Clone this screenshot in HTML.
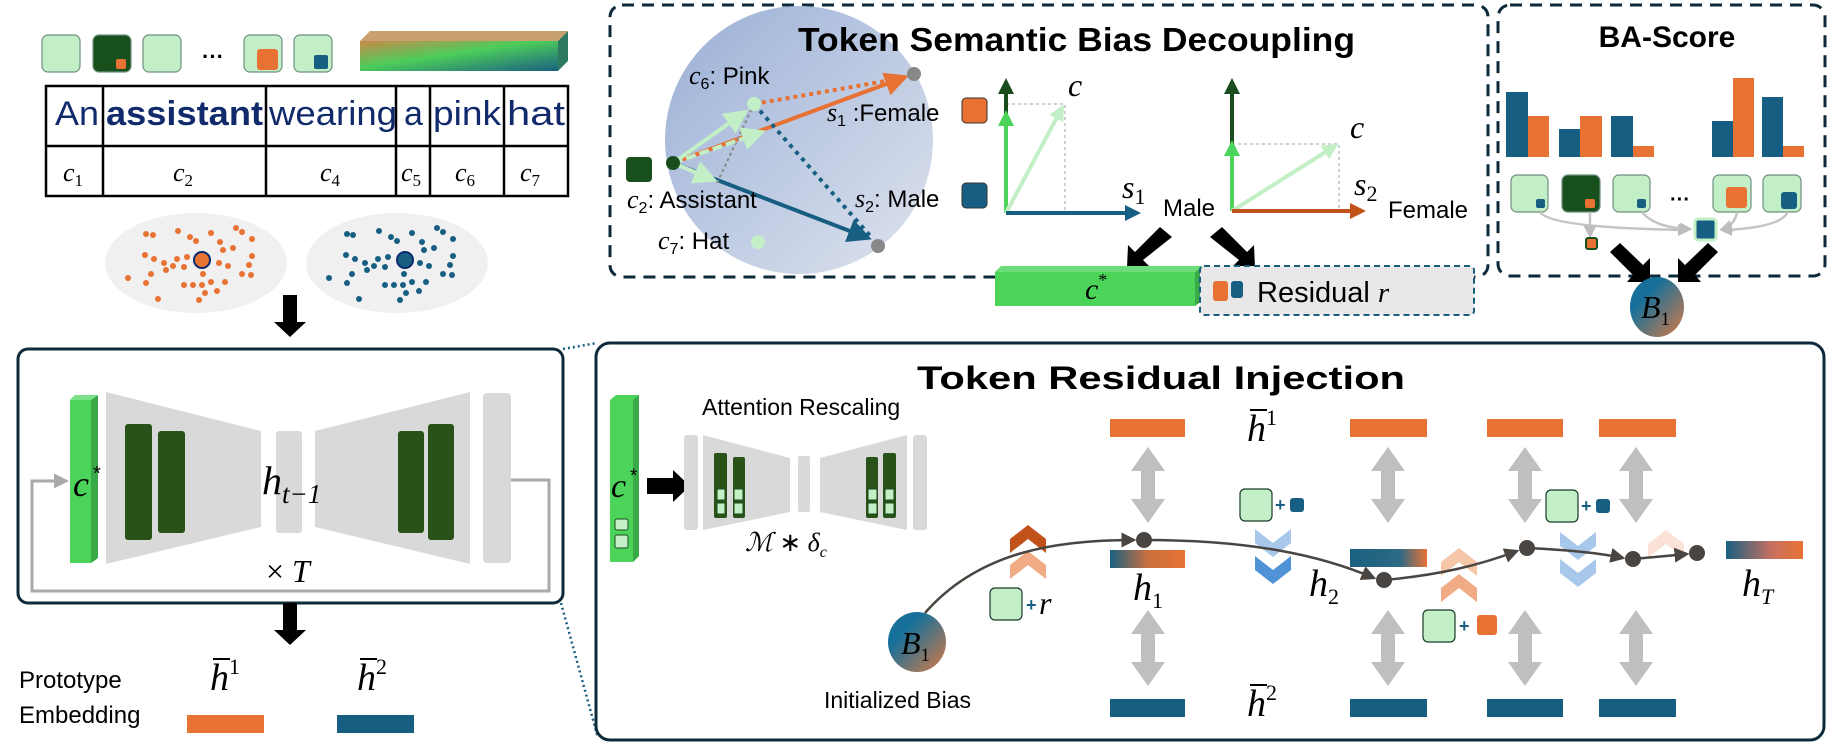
<!DOCTYPE html>
<html><head><meta charset="utf-8"><style>
html,body{margin:0;padding:0;background:#fff}
svg{display:block}
.t{font-family:"Liberation Sans",sans-serif}
.m{font-family:"Liberation Serif",serif;font-style:italic}
</style></head><body>
<svg width="1827" height="749" viewBox="0 0 1827 749" xmlns="http://www.w3.org/2000/svg">
<defs>
<linearGradient id="bar" x1="0" y1="0" x2="1" y2="1">
<stop offset="0" stop-color="#c98a4a"/><stop offset="0.45" stop-color="#4ccd5a"/><stop offset="1" stop-color="#1a6080"/></linearGradient>
<linearGradient id="sph" x1="0" y1="0" x2="1" y2="1">
<stop offset="0" stop-color="#9aafd6"/><stop offset="1" stop-color="#dfe4ee"/></linearGradient>
<linearGradient id="b1" x1="0" y1="0" x2="1" y2="1">
<stop offset="0.3" stop-color="#16709a"/><stop offset="1" stop-color="#d87a45"/></linearGradient>
<linearGradient id="hg" x1="0" y1="0" x2="1" y2="0">
<stop offset="0" stop-color="#1a6080"/><stop offset="0.5" stop-color="#c87040"/><stop offset="1" stop-color="#e87234"/></linearGradient>
<linearGradient id="h2g" x1="0" y1="0" x2="1" y2="0">
<stop offset="0" stop-color="#1a6080"/><stop offset="0.65" stop-color="#2e6a85"/><stop offset="1" stop-color="#e87234"/></linearGradient>
<linearGradient id="hTg" x1="0" y1="0" x2="1" y2="0">
<stop offset="0" stop-color="#1a6080"/><stop offset="0.6" stop-color="#c87060"/><stop offset="1" stop-color="#e87234"/></linearGradient>
<marker id="ao" markerWidth="6" markerHeight="6" refX="5" refY="3" orient="auto"><path d="M0,0L6,3L0,6z" fill="#e87234"/></marker>
<marker id="ab" markerWidth="6" markerHeight="6" refX="5" refY="3" orient="auto"><path d="M0,0L6,3L0,6z" fill="#175f82"/></marker>
<marker id="ag" markerWidth="6" markerHeight="6" refX="5" refY="3" orient="auto"><path d="M0,0L6,3L0,6z" fill="#c2efc6"/></marker>
<marker id="ad" markerWidth="6" markerHeight="6" refX="5" refY="3" orient="auto"><path d="M0,0L6,3L0,6z" fill="#4a4540"/></marker>
<marker id="agr" markerWidth="5" markerHeight="5" refX="4" refY="2.5" orient="auto"><path d="M0,0L5,2.5L0,5z" fill="#bdbdbd"/></marker>
<marker id="axg" markerWidth="4" markerHeight="4" refX="3" refY="2" orient="auto"><path d="M0,0L4,2L0,4z" fill="#4cd45a"/></marker>
<marker id="axd" markerWidth="4" markerHeight="4" refX="3" refY="2" orient="auto"><path d="M0,0L4,2L0,4z" fill="#1a4d1e"/></marker>
<marker id="axl" markerWidth="4" markerHeight="4" refX="3" refY="2" orient="auto"><path d="M0,0L4,2L0,4z" fill="#c2efc6"/></marker>
<marker id="axb" markerWidth="4" markerHeight="4" refX="3" refY="2" orient="auto"><path d="M0,0L4,2L0,4z" fill="#175f82"/></marker>
<marker id="axo" markerWidth="4" markerHeight="4" refX="3" refY="2" orient="auto"><path d="M0,0L4,2L0,4z" fill="#c0521a"/></marker>
<marker id="afb" markerWidth="5" markerHeight="5" refX="4" refY="2.5" orient="auto"><path d="M0,0L5,2.5L0,5z" fill="#aaa"/></marker>
<g id="dup"><polygon points="0,0 17,24 7,24 7,52 17,52 0,76 -17,52 -7,52 -7,24 -17,24" fill="#bfbfbf"/></g>
<g id="chev"><polygon points="-18,12 0,-2 18,12 18,26 0,12 -18,26"/></g>
</defs>

<!-- TOP LEFT -->
<g stroke="#6f8f80" stroke-width="1.2">
<rect x="42" y="35" width="38" height="37" rx="6" fill="#c2efc6"/>
<rect x="93" y="35" width="38" height="37" rx="6" fill="#17501d"/>
<rect x="143" y="35" width="38" height="37" rx="6" fill="#c2efc6"/>
<rect x="244" y="35" width="38" height="37" rx="6" fill="#c2efc6"/>
<rect x="294" y="35" width="38" height="37" rx="6" fill="#c2efc6"/>
</g>
<rect x="116" y="59" width="10" height="10" rx="2" fill="#e87234"/>
<rect x="257" y="49" width="21" height="21" rx="3" fill="#e87234"/>
<rect x="314" y="55" width="14" height="14" rx="2" fill="#175f82"/>
<text x="202" y="64" class="t" font-size="22" font-weight="bold">···</text>
<polygon points="370,31 568,31 558,41 360,41" fill="#c9a070"/>
<polygon points="558,41 568,31 568,61 558,71" fill="#2c7a60"/>
<rect x="360" y="41" width="198" height="30" fill="url(#bar)"/>

<g stroke="#000" stroke-width="2.5" fill="none">
<rect x="46" y="86" width="522" height="110"/>
<line x1="46" y1="146" x2="568" y2="146"/>
<line x1="103" y1="86" x2="103" y2="196"/><line x1="266" y1="86" x2="266" y2="196"/>
<line x1="396" y1="86" x2="396" y2="196"/><line x1="430" y1="86" x2="430" y2="196"/>
<line x1="504" y1="86" x2="504" y2="196"/>
</g>
<g class="t" font-size="34" fill="#102a6b">
<text x="55" y="125" textLength="44" lengthAdjust="spacingAndGlyphs">An</text>
<text x="106" y="125" font-weight="bold" textLength="157" lengthAdjust="spacingAndGlyphs">assistant</text>
<text x="269" y="125" textLength="128" lengthAdjust="spacingAndGlyphs">wearing</text>
<text x="404" y="125">a</text>
<text x="433" y="125" textLength="68" lengthAdjust="spacingAndGlyphs">pink</text>
<text x="507" y="125" textLength="58" lengthAdjust="spacingAndGlyphs">hat</text>
</g>
<g class="m" font-size="26">
<text x="63" y="181">c<tspan font-size="17" font-style="normal" dy="5">1</tspan></text>
<text x="173" y="181">c<tspan font-size="17" font-style="normal" dy="5">2</tspan></text>
<text x="320" y="181">c<tspan font-size="17" font-style="normal" dy="5">4</tspan></text>
<text x="401" y="181">c<tspan font-size="17" font-style="normal" dy="5">5</tspan></text>
<text x="455" y="181">c<tspan font-size="17" font-style="normal" dy="5">6</tspan></text>
<text x="520" y="181">c<tspan font-size="17" font-style="normal" dy="5">7</tspan></text>
</g>

<!-- clusters -->
<ellipse cx="196" cy="263" rx="91" ry="50" fill="#f0f0f0"/>
<ellipse cx="397" cy="263" rx="91" ry="50" fill="#f0f0f0"/>
<g fill="#e87234">
<circle cx="146" cy="234" r="3"/><circle cx="153" cy="235" r="3"/><circle cx="178" cy="231" r="3"/><circle cx="190" cy="237" r="3"/><circle cx="196" cy="241" r="3"/><circle cx="211" cy="233" r="3"/><circle cx="220" cy="242" r="3"/><circle cx="236" cy="228" r="3"/><circle cx="242" cy="232" r="3"/><circle cx="252" cy="239" r="3"/>
<circle cx="145" cy="255" r="3"/><circle cx="154" cy="259" r="3"/><circle cx="164" cy="263" r="3"/><circle cx="177" cy="259" r="3"/><circle cx="187" cy="257" r="3"/><circle cx="173" cy="266" r="3"/><circle cx="184" cy="267" r="3"/><circle cx="166" cy="270" r="3"/><circle cx="223" cy="250" r="3"/><circle cx="233" cy="248" r="3"/><circle cx="252" cy="256" r="3"/>
<circle cx="219" cy="263" r="3"/><circle cx="228" cy="266" r="3"/><circle cx="249" cy="265" r="3"/><circle cx="128" cy="278" r="3"/><circle cx="151" cy="274" r="3"/><circle cx="146" cy="283" r="3"/><circle cx="203" cy="274" r="3"/><circle cx="242" cy="274" r="3"/><circle cx="251" cy="275" r="3"/>
<circle cx="184" cy="285" r="3"/><circle cx="193" cy="285" r="3"/><circle cx="202" cy="285" r="3"/><circle cx="211" cy="282" r="3"/><circle cx="225" cy="282" r="3"/><circle cx="205" cy="293" r="3"/><circle cx="217" cy="291" r="3"/><circle cx="158" cy="299" r="3"/><circle cx="199" cy="300" r="3"/>
</g>
<circle cx="202" cy="260" r="8" fill="#e87234" stroke="#0d2a6b" stroke-width="2"/>
<g fill="#175f82">
<circle cx="347" cy="234" r="3"/><circle cx="353" cy="235" r="3"/><circle cx="379" cy="231" r="3"/><circle cx="391" cy="237" r="3"/><circle cx="397" cy="241" r="3"/><circle cx="412" cy="233" r="3"/><circle cx="422" cy="242" r="3"/><circle cx="437" cy="228" r="3"/><circle cx="443" cy="232" r="3"/><circle cx="453" cy="239" r="3"/>
<circle cx="346" cy="255" r="3"/><circle cx="355" cy="259" r="3"/><circle cx="365" cy="263" r="3"/><circle cx="378" cy="259" r="3"/><circle cx="388" cy="257" r="3"/><circle cx="374" cy="266" r="3"/><circle cx="385" cy="267" r="3"/><circle cx="367" cy="270" r="3"/><circle cx="424" cy="250" r="3"/><circle cx="434" cy="248" r="3"/><circle cx="453" cy="256" r="3"/>
<circle cx="420" cy="263" r="3"/><circle cx="429" cy="266" r="3"/><circle cx="450" cy="265" r="3"/><circle cx="329" cy="278" r="3"/><circle cx="352" cy="274" r="3"/><circle cx="347" cy="283" r="3"/><circle cx="404" cy="274" r="3"/><circle cx="443" cy="274" r="3"/><circle cx="452" cy="275" r="3"/>
<circle cx="385" cy="285" r="3"/><circle cx="394" cy="285" r="3"/><circle cx="403" cy="285" r="3"/><circle cx="412" cy="282" r="3"/><circle cx="426" cy="282" r="3"/><circle cx="406" cy="293" r="3"/><circle cx="419" cy="291" r="3"/><circle cx="359" cy="299" r="3"/><circle cx="400" cy="300" r="3"/>
</g>
<circle cx="405" cy="260" r="8" fill="#175f82" stroke="#0d2a6b" stroke-width="2"/>

<polygon points="283,295 297,295 297,322 306,322 290,337 274,322 283,322" fill="#000"/>

<!-- LEFT BOX -->
<rect x="18" y="349" width="545" height="254" rx="10" fill="none" stroke="#0d2a3a" stroke-width="3"/>
<polyline points="511,480 549,480 549,591 32,591 32,481 66,481" fill="none" stroke="#aaa" stroke-width="3" marker-end="url(#afb)"/>
<polygon points="70,400 75,395 98,395 98,558 91,563 70,563" fill="#4cd45a"/>
<polygon points="91,400 98,395 98,558 91,563" fill="#3aaa48"/>
<polygon points="70,400 75,395 98,395 91,400" fill="#7be08a"/>
<text x="73" y="496" class="m" font-size="36">c</text><text x="93" y="480" class="t" font-size="20">*</text>
<polygon points="106,392 261,431 261,527 106,564" fill="#d9d9d9"/>
<rect x="125" y="424" width="27" height="116" rx="3" fill="#285218"/>
<rect x="158" y="431" width="27" height="102" rx="3" fill="#285218"/>
<rect x="276" y="431" width="26" height="102" rx="3" fill="#d9d9d9"/>
<polygon points="315,431 470,392 470,564 315,527" fill="#d9d9d9"/>
<rect x="398" y="431" width="26" height="102" rx="3" fill="#285218"/>
<rect x="428" y="424" width="26" height="116" rx="3" fill="#285218"/>
<rect x="483" y="393" width="28" height="170" rx="4" fill="#d9d9d9"/>
<text x="262" y="494" class="m" font-size="40">h<tspan font-size="27" dy="9">t−1</tspan></text>
<text x="266" y="582" class="m" font-size="32"><tspan font-style="normal">× </tspan>T</text>
<polygon points="283,603 297,603 297,630 306,630 290,645 274,630 283,630" fill="#000"/>
<text x="19" y="688" class="t" font-size="24">Prototype</text>
<text x="19" y="723" class="t" font-size="24">Embedding</text>
<text x="210" y="690" class="m" font-size="38">h<tspan font-size="22" font-style="normal" dy="-16">1</tspan></text>
<line x1="213" y1="659" x2="230" y2="659" stroke="#000" stroke-width="2"/>
<text x="357" y="690" class="m" font-size="38">h<tspan font-size="22" font-style="normal" dy="-16">2</tspan></text>
<line x1="360" y1="659" x2="377" y2="659" stroke="#000" stroke-width="2"/>
<rect x="187" y="715" width="77" height="18" fill="#e87234"/>
<rect x="337" y="715" width="77" height="18" fill="#175f82"/>

<!-- dotted connectors -->
<line x1="563" y1="349" x2="597" y2="343" stroke="#1a5e80" stroke-width="2.5" stroke-dasharray="2,3"/>
<line x1="561" y1="603" x2="598" y2="738" stroke="#1a5e80" stroke-width="2.5" stroke-dasharray="2,3"/>

<!-- TSBD BOX -->
<rect x="610" y="5" width="878" height="272" rx="12" fill="none" stroke="#0d2a3a" stroke-width="3" stroke-dasharray="12,8"/>
<circle cx="799" cy="140" r="134" fill="url(#sph)"/>
<text x="798" y="51" class="t" font-size="33" font-weight="bold" textLength="557" lengthAdjust="spacingAndGlyphs">Token Semantic Bias Decoupling</text>
<rect x="626" y="157" width="26" height="25" rx="4" fill="#17501d"/>
<line x1="673" y1="163" x2="905" y2="77" stroke="#e87234" stroke-width="4" marker-end="url(#ao)"/>
<line x1="673" y1="163" x2="868" y2="238" stroke="#175f82" stroke-width="4" marker-end="url(#ab)"/>
<line x1="754" y1="104" x2="903" y2="78" stroke="#e87234" stroke-width="4" stroke-dasharray="4,4"/>
<line x1="754" y1="104" x2="872" y2="238" stroke="#175f82" stroke-width="4" stroke-dasharray="4,5"/>
<line x1="754" y1="104" x2="717" y2="183" stroke="#888" stroke-width="2" stroke-dasharray="3,3"/>
<line x1="673" y1="163" x2="745" y2="112" stroke="#c2efc6" stroke-width="4" marker-end="url(#ag)"/>
<line x1="673" y1="163" x2="762" y2="132" stroke="#c2efc6" stroke-width="4" stroke-dasharray="10,4" marker-end="url(#ag)"/>
<line x1="673" y1="163" x2="714" y2="180" stroke="#c2efc6" stroke-width="4" marker-end="url(#ag)"/>
<circle cx="673" cy="163" r="7" fill="#1a4d1e"/>
<circle cx="754" cy="104" r="7" fill="#c2efc6"/>
<circle cx="914" cy="74" r="7" fill="#888"/>
<circle cx="878" cy="246" r="7" fill="#888"/>
<circle cx="758" cy="242" r="7" fill="#c2efc6"/>
<g class="t" font-size="24">
<text x="689" y="84"><tspan class="m" font-size="26">c</tspan><tspan font-size="16" dy="5">6</tspan><tspan dy="-5">: Pink</tspan></text>
<text x="627" y="208"><tspan class="m" font-size="26">c</tspan><tspan font-size="16" dy="5">2</tspan><tspan dy="-5">: Assistant</tspan></text>
<text x="658" y="249"><tspan class="m" font-size="26">c</tspan><tspan font-size="16" dy="5">7</tspan><tspan dy="-5">: Hat</tspan></text>
<text x="827" y="121"><tspan class="m" font-size="26">s</tspan><tspan font-size="16" dy="5">1</tspan><tspan dy="-5"> :Female</tspan></text>
<text x="855" y="207"><tspan class="m" font-size="26">s</tspan><tspan font-size="16" dy="5">2</tspan><tspan dy="-5">: Male</tspan></text>
</g>
<rect x="962" y="98" width="25" height="25" rx="4" fill="#e87234" stroke="#333" stroke-width="1"/>
<rect x="962" y="183" width="25" height="25" rx="4" fill="#175f82" stroke="#333" stroke-width="1"/>
<!-- axes 1 -->
<polyline points="1006,104 1065,104 1065,213" fill="none" stroke="#d0d0d0" stroke-width="2" stroke-dasharray="3,3"/>
<line x1="1006" y1="213" x2="1006" y2="82" stroke="#1a4d1e" stroke-width="4" marker-end="url(#axd)"/>
<line x1="1006" y1="213" x2="1006" y2="114" stroke="#4cd45a" stroke-width="4" marker-end="url(#axg)"/>
<line x1="1006" y1="213" x2="1062" y2="108" stroke="#c2efc6" stroke-width="4" marker-end="url(#axl)"/>
<line x1="1006" y1="213" x2="1137" y2="213" stroke="#175f82" stroke-width="4" marker-end="url(#axb)"/>
<text x="1068" y="96" class="m" font-size="32">c</text>
<text x="1122" y="198" class="m" font-size="32">s<tspan font-style="normal" font-size="22" dy="6">1</tspan></text>
<text x="1163" y="216" class="t" font-size="24">Male</text>
<!-- axes 2 -->
<polyline points="1232,144 1339,144 1339,213" fill="none" stroke="#d0d0d0" stroke-width="2" stroke-dasharray="3,3"/>
<line x1="1232" y1="211" x2="1232" y2="82" stroke="#1a4d1e" stroke-width="4" marker-end="url(#axd)"/>
<line x1="1232" y1="211" x2="1232" y2="144" stroke="#4cd45a" stroke-width="4" marker-end="url(#axg)"/>
<line x1="1232" y1="211" x2="1335" y2="146" stroke="#c2efc6" stroke-width="4" marker-end="url(#axl)"/>
<line x1="1232" y1="211" x2="1362" y2="211" stroke="#c0521a" stroke-width="4" marker-end="url(#axo)"/>
<text x="1350" y="138" class="m" font-size="32">c</text>
<text x="1354" y="195" class="m" font-size="32">s<tspan font-style="normal" font-size="22" dy="6">2</tspan></text>
<text x="1388" y="218" class="t" font-size="24">Female</text>
<!-- black diagonal arrows -->
<polygon points="1172,237 1160,227 1135,252 1128,245 1127,268 1150,267 1143,260" fill="#000"/>
<polygon points="1210,237 1222,227 1247,252 1254,245 1255,268 1232,267 1239,260" fill="#000"/>
<!-- c* bar -->
<polygon points="1001,266 1203,266 1195,272 995,272" fill="#6cdc78"/>
<rect x="995" y="272" width="200" height="34" fill="#4cd45a"/>
<polygon points="1195,272 1203,266 1203,300 1195,306" fill="#3aaa48"/>
<text x="1085" y="299" class="m" font-size="30">c<tspan font-size="18" font-style="normal" dy="-13">*</tspan></text>
<!-- residual -->
<rect x="1200" y="266" width="274" height="49" rx="4" fill="#e8e8e8" stroke="#1a5e80" stroke-width="2" stroke-dasharray="6,4"/>
<rect x="1213" y="281" width="15" height="20" rx="3" fill="#e87234"/>
<rect x="1231" y="281" width="12" height="17" rx="3" fill="#175f82"/>
<text x="1257" y="302" class="t" font-size="29">Residual <tspan class="m">r</tspan></text>

<!-- BA-SCORE -->
<rect x="1498" y="5" width="327" height="271" rx="12" fill="none" stroke="#0d2a3a" stroke-width="3" stroke-dasharray="12,8"/>
<text x="1667" y="47" class="t" font-size="30" font-weight="bold" text-anchor="middle">BA-Score</text>
<g fill="#175f82"><rect x="1506" y="92" width="22" height="65"/><rect x="1559" y="129" width="21" height="28"/><rect x="1611" y="116" width="22" height="41"/><rect x="1712" y="121" width="21" height="36"/><rect x="1762" y="97" width="21" height="60"/></g>
<g fill="#e87234"><rect x="1528" y="116" width="21" height="41"/><rect x="1580" y="116" width="22" height="41"/><rect x="1633" y="146" width="21" height="11"/><rect x="1733" y="78" width="21" height="79"/><rect x="1783" y="146" width="21" height="11"/></g>
<g stroke="#6f8f80" stroke-width="1.2">
<rect x="1511" y="175" width="37" height="37" rx="6" fill="#c2efc6"/>
<rect x="1562" y="175" width="38" height="37" rx="6" fill="#17501d"/>
<rect x="1613" y="175" width="37" height="37" rx="6" fill="#c2efc6"/>
<rect x="1713" y="175" width="38" height="37" rx="6" fill="#c2efc6"/>
<rect x="1763" y="175" width="38" height="37" rx="6" fill="#c2efc6"/>
</g>
<rect x="1536" y="199" width="9" height="9" rx="2" fill="#175f82"/>
<rect x="1585" y="199" width="10" height="9" rx="2" fill="#e87234"/>
<rect x="1637" y="199" width="9" height="9" rx="2" fill="#175f82"/>
<rect x="1726" y="187" width="21" height="21" rx="3" fill="#e87234"/>
<rect x="1781" y="192" width="16" height="17" rx="3" fill="#175f82"/>
<text x="1670" y="206" class="t" font-size="20" font-weight="bold">···</text>
<g fill="none" stroke="#c4c4c4" stroke-width="2.5">
<path d="M1540,212 Q1550,228 1688,230" marker-end="url(#agr)"/>
<path d="M1590,212 L1590,236" marker-end="url(#agr)"/>
<path d="M1642,212 Q1655,228 1690,229" marker-end="url(#agr)"/>
<path d="M1737,212 Q1735,225 1722,229" marker-end="url(#agr)"/>
<path d="M1788,212 Q1780,228 1722,230" marker-end="url(#agr)"/>
</g>
<rect x="1586" y="238" width="11" height="11" rx="2" fill="#e87234" stroke="#17501d" stroke-width="2"/>
<rect x="1695" y="219" width="21" height="21" rx="3" fill="#175f82" stroke="#c2efc6" stroke-width="3"/>
<polygon points="1610,252 1620,243 1643,265 1650,258 1650,282 1627,282 1633,275" fill="#000"/>
<polygon points="1718,252 1708,243 1685,265 1678,258 1678,282 1701,282 1695,275" fill="#000"/>
<ellipse cx="1657" cy="307" rx="27" ry="30" fill="url(#b1)"/>
<text x="1641" y="318" class="m" font-size="32">B<tspan font-style="normal" font-size="19" dy="7">1</tspan></text>

<!-- BIG BOX -->
<rect x="596" y="343" width="1228" height="397" rx="14" fill="none" stroke="#0d2a3a" stroke-width="3"/>
<text x="917" y="389" class="t" font-size="32" font-weight="bold" textLength="488" lengthAdjust="spacingAndGlyphs">Token Residual Injection</text>
<polygon points="610,400 616,395 639,395 639,556 633,562 610,562" fill="#4cd45a"/>
<polygon points="633,400 639,395 639,556 633,562" fill="#3aaa48"/>
<text x="611" y="497" class="m" font-size="34">c</text><text x="630" y="482" class="t" font-size="19">*</text>
<rect x="615" y="519" width="13" height="11" rx="2" fill="#c2efc6" stroke="#1a4d1e"/>
<rect x="615" y="535" width="13" height="13" rx="2" fill="#c2efc6" stroke="#1a4d1e"/>
<polygon points="647,478 673,478 673,470 690,486 673,502 673,494 647,494" fill="#000"/>
<text x="702" y="415" class="t" font-size="23">Attention Rescaling</text>
<!-- mini unet -->
<rect x="684" y="435" width="14" height="95" rx="3" fill="#d9d9d9"/>
<polygon points="703,435 790,458 790,512 703,530" fill="#d9d9d9"/>
<rect x="714" y="453" width="13" height="65" rx="2" fill="#285218"/>
<rect x="733" y="457" width="12" height="61" rx="2" fill="#285218"/>
<rect x="798" y="456" width="12" height="56" rx="2" fill="#d9d9d9"/>
<polygon points="820,458 907,435 907,530 820,512" fill="#d9d9d9"/>
<rect x="866" y="457" width="12" height="61" rx="2" fill="#285218"/>
<rect x="883" y="453" width="13" height="65" rx="2" fill="#285218"/>
<rect x="913" y="435" width="14" height="95" rx="3" fill="#d9d9d9"/>
<g fill="#c2efc6" stroke="#1a4d1e" stroke-width="1">
<rect x="717" y="489" width="8" height="11" rx="1"/><rect x="717" y="503" width="8" height="11" rx="1"/>
<rect x="734" y="489" width="9" height="11" rx="1"/><rect x="734" y="503" width="9" height="11" rx="1"/>
<rect x="868" y="489" width="9" height="11" rx="1"/><rect x="868" y="503" width="9" height="11" rx="1"/>
<rect x="885" y="489" width="9" height="11" rx="1"/><rect x="885" y="503" width="9" height="11" rx="1"/>
</g>
<text x="745" y="551" class="m" font-size="26">ℳ <tspan font-style="normal">∗</tspan> δ<tspan font-size="16" dy="6">c</tspan></text>

<!-- prototype bars -->
<g fill="#e87234"><rect x="1110" y="419" width="75" height="18"/><rect x="1350" y="419" width="77" height="18"/><rect x="1487" y="419" width="76" height="18"/><rect x="1599" y="419" width="77" height="18"/></g>
<g fill="#175f82"><rect x="1110" y="699" width="75" height="18"/><rect x="1350" y="699" width="77" height="18"/><rect x="1487" y="699" width="76" height="18"/><rect x="1599" y="699" width="77" height="18"/></g>
<rect x="1110" y="550" width="75" height="18" fill="url(#hg)"/>
<rect x="1350" y="549" width="77" height="18" fill="url(#h2g)"/>
<rect x="1726" y="541" width="77" height="18" fill="url(#hTg)"/>
<use href="#dup" x="1148" y="447"/><use href="#dup" x="1148" y="610"/>
<use href="#dup" x="1388" y="447"/><use href="#dup" x="1388" y="610"/>
<use href="#dup" x="1525" y="447"/><use href="#dup" x="1525" y="610"/>
<use href="#dup" x="1636" y="447"/><use href="#dup" x="1636" y="610"/>
<text x="1247" y="441" class="m" font-size="38">h<tspan font-size="22" font-style="normal" dy="-16">1</tspan></text>
<line x1="1250" y1="410" x2="1267" y2="410" stroke="#000" stroke-width="2"/>
<text x="1247" y="716" class="m" font-size="38">h<tspan font-size="22" font-style="normal" dy="-16">2</tspan></text>
<line x1="1250" y1="685" x2="1267" y2="685" stroke="#000" stroke-width="2"/>
<text x="1133" y="600" class="m" font-size="38">h<tspan font-size="22" font-style="normal" dy="8">1</tspan></text>
<text x="1309" y="596" class="m" font-size="38">h<tspan font-size="22" font-style="normal" dy="8">2</tspan></text>
<text x="1742" y="596" class="m" font-size="38">h<tspan font-size="22" dy="8">T</tspan></text>
<!-- chevrons -->
<use href="#chev" x="1028" y="527" fill="#c0521a"/>
<use href="#chev" x="1028" y="553" fill="#f0ab84"/>
<use href="#chev" x="1459" y="550" fill="#f6c6a8"/>
<use href="#chev" x="1459" y="576" fill="#f0ab84"/>
<use href="#chev" x="1666" y="532" fill="#fbe2d6"/>
<g transform="translate(1273,555) scale(1,-1)"><use href="#chev" x="0" y="0" fill="#a7c8ea"/></g>
<g transform="translate(1273,582) scale(1,-1)"><use href="#chev" x="0" y="0" fill="#4f93d6"/></g>
<g transform="translate(1578,558) scale(1,-1)"><use href="#chev" x="0" y="0" fill="#a7c8ea"/></g>
<g transform="translate(1578,585) scale(1,-1)"><use href="#chev" x="0" y="0" fill="#a7c8ea"/></g>
<!-- curve -->
<g fill="none" stroke="#4a4540" stroke-width="2.5">
<path d="M925,613 C980,550 1060,540 1134,540" marker-end="url(#ad)"/>
<path d="M1144,540 C1250,540 1320,555 1374,578" marker-end="url(#ad)"/>
<path d="M1384,580 C1440,575 1480,565 1517,551" marker-end="url(#ad)"/>
<path d="M1527,548 C1570,550 1600,553 1623,558" marker-end="url(#ad)"/>
<path d="M1633,559 L1687,554" marker-end="url(#ad)"/>
</g>
<g fill="#4a4540"><circle cx="1144" cy="540" r="8"/><circle cx="1384" cy="580" r="8"/><circle cx="1527" cy="548" r="8"/><circle cx="1633" cy="559" r="8"/><circle cx="1697" cy="553" r="8"/></g>
<ellipse cx="917" cy="642" rx="29" ry="30" fill="url(#b1)"/>
<text x="901" y="654" class="m" font-size="32">B<tspan font-style="normal" font-size="19" dy="7">1</tspan></text>
<text x="824" y="708" class="t" font-size="23">Initialized Bias</text>
<!-- plus boxes -->
<rect x="990" y="588" width="32" height="32" rx="5" fill="#c2efc6" stroke="#1a3a2a" stroke-width="1.2"/>
<text x="1026" y="611" class="t" font-size="18" font-weight="bold" fill="#175f82">+</text>
<text x="1039" y="614" class="m" font-size="32">r</text>
<rect x="1240" y="489" width="32" height="32" rx="5" fill="#c2efc6" stroke="#1a3a2a" stroke-width="1.2"/>
<text x="1275" y="511" class="t" font-size="18" font-weight="bold" fill="#175f82">+</text>
<rect x="1290" y="498" width="14" height="14" rx="3" fill="#175f82"/>
<rect x="1546" y="490" width="32" height="32" rx="5" fill="#c2efc6" stroke="#1a3a2a" stroke-width="1.2"/>
<text x="1581" y="512" class="t" font-size="18" font-weight="bold" fill="#175f82">+</text>
<rect x="1596" y="499" width="14" height="14" rx="3" fill="#175f82"/>
<rect x="1423" y="610" width="32" height="32" rx="5" fill="#c2efc6" stroke="#1a3a2a" stroke-width="1.2"/>
<text x="1459" y="632" class="t" font-size="18" font-weight="bold" fill="#175f82">+</text>
<rect x="1477" y="615" width="20" height="20" rx="3" fill="#e87234"/>
</svg>
</body></html>
